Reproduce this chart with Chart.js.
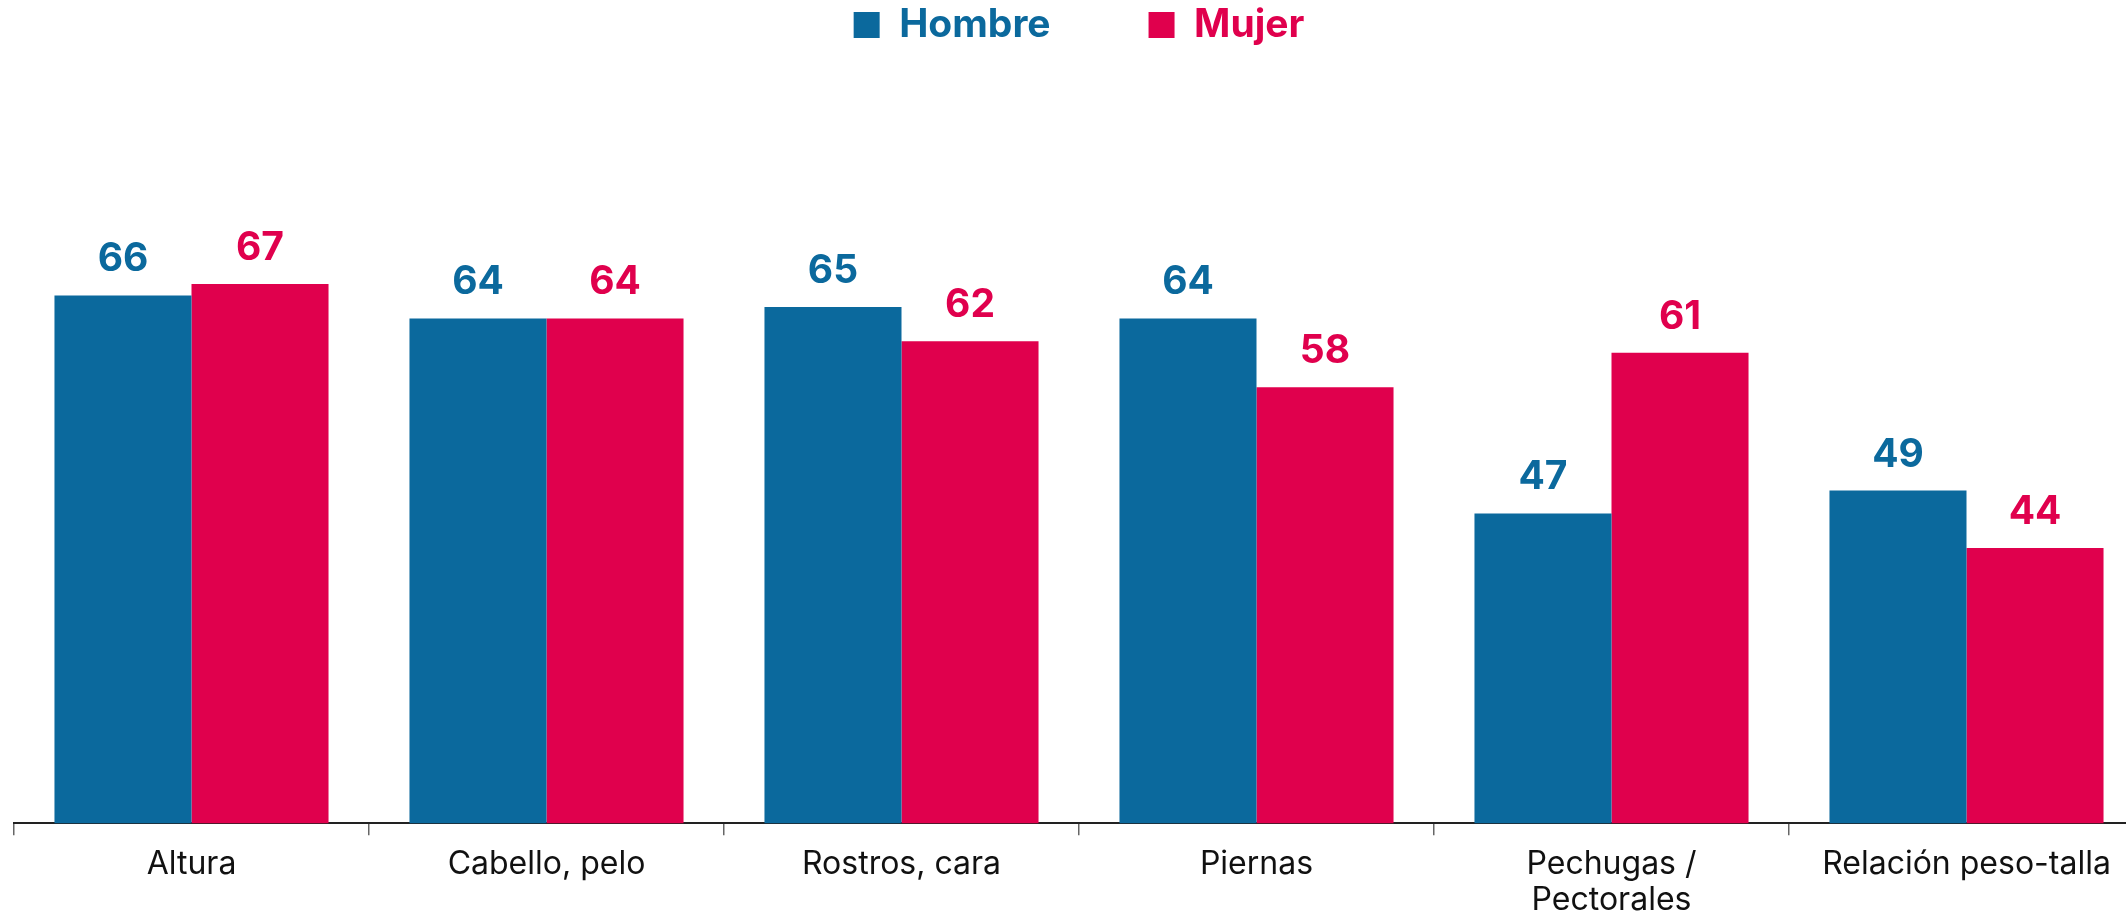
<!DOCTYPE html>
<html>
<head>
<meta charset="utf-8">
<script src="https://cdn.jsdelivr.net/npm/chart.js@4"></script>
<style>
  html, body { margin: 0; padding: 0; background: #fff; overflow: hidden; }
  #wrap { width: 2150px; height: 913px; }
</style>
</head>
<body>
<div id="wrap"><canvas id="canvas"></canvas></div>
<script>
// Categorías y valores (porcentaje)
const categories = ['Altura', 'Cabello, pelo', 'Rostros, cara', 'Piernas', ['Pechugas /', 'Pectorales'], 'Relación peso-talla'];
const hombre = [66, 64, 65, 64, 47, 49];
const mujer = [67, 64, 62, 58, 61, 44];
const yMin = 20;
const yMax = 87;

const blue = '#0B699D';
const red = '#E0004D';

// Etiquetas de valor encima de cada barra
const valueLabels = {
  id: 'valueLabels',
  afterDatasetsDraw(chart) {
    const ctx = chart.ctx;
    ctx.save();
    ctx.font = '700 39px Inter';
    ctx.textAlign = 'center';
    ctx.textBaseline = 'alphabetic';
    chart.data.datasets.forEach((ds, i) => {
      chart.getDatasetMeta(i).data.forEach((bar, j) => {
        ctx.fillStyle = ds.backgroundColor;
        ctx.fillText(ds.data[j], bar.x, bar.y - 24);
      });
    });
    ctx.restore();
  }
};

new Chart(document.getElementById('canvas'), {
  type: 'bar',
  data: {
    labels: categories,
    datasets: [
      { label: 'Hombre', data: hombre, backgroundColor: blue },
      { label: 'Mujer', data: mujer, backgroundColor: red }
    ]
  },
  options: {
    responsive: true,
    maintainAspectRatio: false,
    animation: false,
    categoryPercentage: 0.772,
    barPercentage: 1,
    layout: { padding: { left: 14, right: 6, top: -92.5, bottom: -16 } },
    plugins: {
      tooltip: { enabled: false },
      legend: {
        position: 'top',
        labels: {
          boxWidth: 26,
          boxHeight: 26,
          padding: 98,
          font: { family: 'Inter', size: 39, weight: '700' },
          generateLabels(chart) {
            return chart.data.datasets.map((ds, i) => ({
              text: ds.label,
              fillStyle: ds.backgroundColor,
              strokeStyle: ds.backgroundColor,
              fontColor: ds.backgroundColor,
              lineWidth: 0,
              datasetIndex: i
            }));
          }
        }
      }
    },
    scales: {
      x: {
        grid: { drawOnChartArea: false, drawTicks: true, tickLength: 12, color: '#666', lineWidth: 1.5 },
        border: { display: true, color: '#222', width: 2 },
        ticks: {
          color: '#111',
          padding: 11,
          maxRotation: 0,
          autoSkip: false,
          font: { family: 'Inter', size: 32, lineHeight: 1.12 }
        }
      },
      y: {
        display: false,
        min: yMin,
        max: yMax
      }
    }
  },
  plugins: [valueLabels]
});
</script>
</body>
</html>
